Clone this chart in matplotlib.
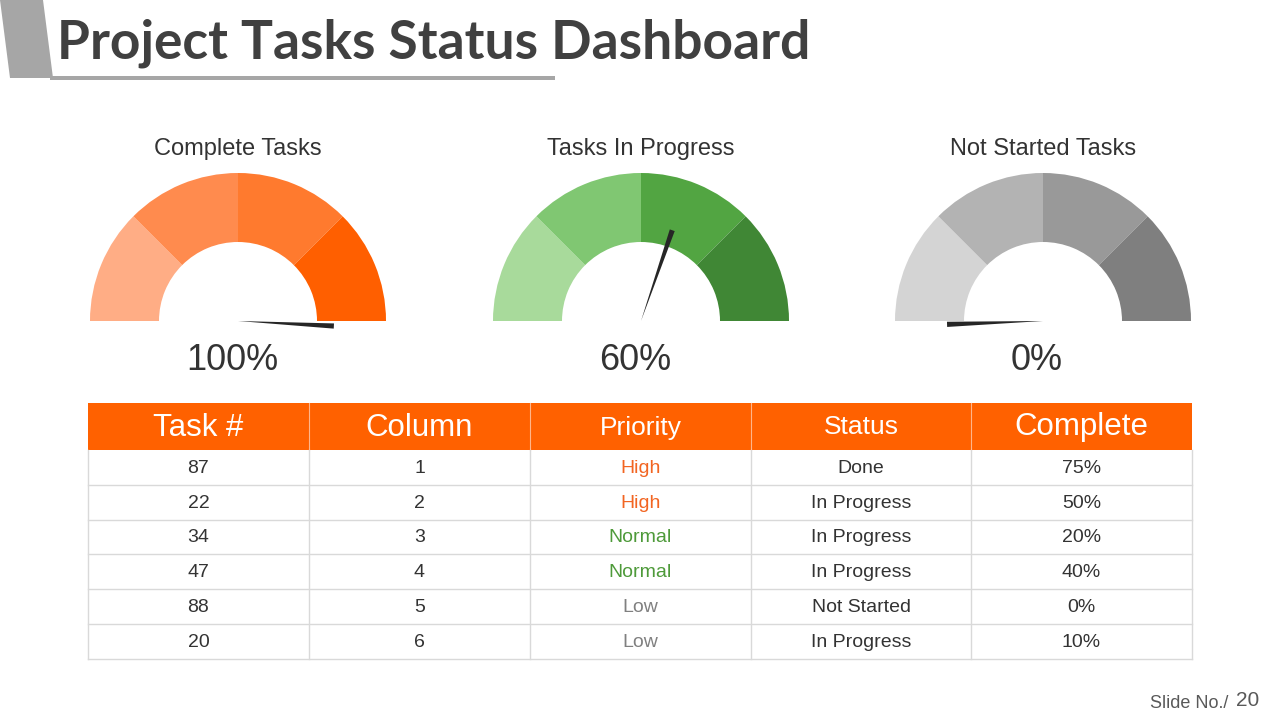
import numpy as np
import matplotlib
matplotlib.use("Agg")
import matplotlib.pyplot as plt
from matplotlib.patches import Wedge, Polygon, Rectangle

# gauge data
gauge_titles = ["Complete Tasks", "Tasks In Progress", "Not Started Tasks"]
gauge_values = [100, 60, 0]
gauge_colors = [
    ["#FFAD85", "#FF8B4E", "#FF7A2E", "#FF5F00"],
    ["#A8DA9B", "#80C772", "#52A542", "#408735"],
    ["#D4D4D4", "#B3B3B3", "#999999", "#7F7F7F"],
]

# table data
header = ["Task #", "Column", "Priority", "Status", "Complete"]
task_ids = [87, 22, 34, 47, 88, 20]
column_nos = [1, 2, 3, 4, 5, 6]
priorities = ["High", "High", "Normal", "Normal", "Low", "Low"]
statuses = ["Done", "In Progress", "In Progress", "In Progress", "Not Started", "In Progress"]
completes = [75, 50, 20, 40, 0, 10]

priority_colors = {"High": "#F26522", "Normal": "#4E9A3A", "Low": "#808080"}
header_sizes = [22.5, 22.5, 19, 19, 22.5]

ORANGE = "#FF6100"
FONT = "Liberation Sans"

fig = plt.figure(figsize=(12.8, 7.2), dpi=100)
ax = fig.add_axes([0, 0, 1, 1])
ax.set_xlim(0, 1280)
ax.set_ylim(720, 0)
ax.axis("off")

# title block
ax.add_patch(Polygon([(0, 0), (43, 0), (53, 78), (10, 78)], closed=True,
                     color="#A6A6A6", lw=0))
ax.add_patch(Rectangle((50, 75.5), 505, 4, color="#A6A6A6", lw=0))
ax.text(57, 43, "Project Tasks Status Dashboard", fontsize=38.4, fontweight="bold",
        family="Lato", color="#404040", ha="left", va="center")

# gauges
centers = [238, 641, 1043]
cy = 321
r_out, r_in = 148, 79
needle_len, needle_w = 96, 2.6
for cx, title, val, cols in zip(centers, gauge_titles, gauge_values, gauge_colors):
    n = len(cols)
    step = 180 / n
    for i, c in enumerate(cols):
        # y axis points down, so the upper half runs from 180 to 360 degrees
        ax.add_patch(Wedge((cx, cy), r_out, 180 + i * step, 180 + (i + 1) * step,
                           width=r_out - r_in, facecolor=c, edgecolor="none"))
    ang = np.deg2rad(182 - 1.85 * val)
    ux, uy = np.cos(ang), -np.sin(ang)
    px, py = -uy, ux
    tip = (cx, cy)
    b1 = (cx + ux * needle_len + px * needle_w, cy + uy * needle_len + py * needle_w)
    b2 = (cx + ux * needle_len - px * needle_w, cy + uy * needle_len - py * needle_w)
    ax.add_patch(Polygon([tip, b1, b2], closed=True, color="#262626", lw=0))
    ax.text(cx, 149, title, fontsize=17, family=FONT, color="#333333",
            ha="center", va="center")
    ax.text(cx - 6, 360, f"{val}%", fontsize=26, family=FONT, color="#333333",
            ha="center", va="center")

# table
col_x = [88, 309, 530, 751, 971, 1192]
head_top, head_bot = 403, 450
row_h = 34.8
grid = "#D9D9D9"

ax.add_patch(Rectangle((col_x[0], head_top), col_x[-1] - col_x[0], head_bot - head_top,
                       facecolor=ORANGE, edgecolor="none"))
for j, h in enumerate(header):
    xm = (col_x[j] + col_x[j + 1]) / 2
    ax.text(xm, (head_top + head_bot) / 2 + 1, h, fontsize=header_sizes[j], family=FONT,
            color="white", ha="center", va="center")
    if 0 < j:
        ax.plot([col_x[j], col_x[j]], [head_top, head_bot], color="#FFB58A", lw=0.8)

rows = list(zip(task_ids, column_nos, priorities, statuses, completes))
n_rows = len(rows)
table_bot = head_bot + n_rows * row_h
for i, (tid, cno, pri, st, comp) in enumerate(rows):
    ym = head_bot + (i + 0.5) * row_h
    cells = [str(tid), str(cno), pri, st, f"{comp}%"]
    for j, txt in enumerate(cells):
        xm = (col_x[j] + col_x[j + 1]) / 2
        color = priority_colors[pri] if j == 2 else "#333333"
        ax.text(xm, ym + 1, txt, fontsize=14, family=FONT, color=color,
                ha="center", va="center")
    ax.plot([col_x[0], col_x[-1]], [head_bot + (i + 1) * row_h] * 2, color=grid, lw=1)
for x in col_x:
    ax.plot([x, x], [head_bot, table_bot], color=grid, lw=1)

# slide number
ax.text(1228, 703, "Slide No./", fontsize=13, family=FONT, color="#595959",
        ha="right", va="center")
ax.text(1236, 700, "20", fontsize=15, family=FONT, color="#595959",
        ha="left", va="center")

fig.savefig("out.png", dpi=100)
